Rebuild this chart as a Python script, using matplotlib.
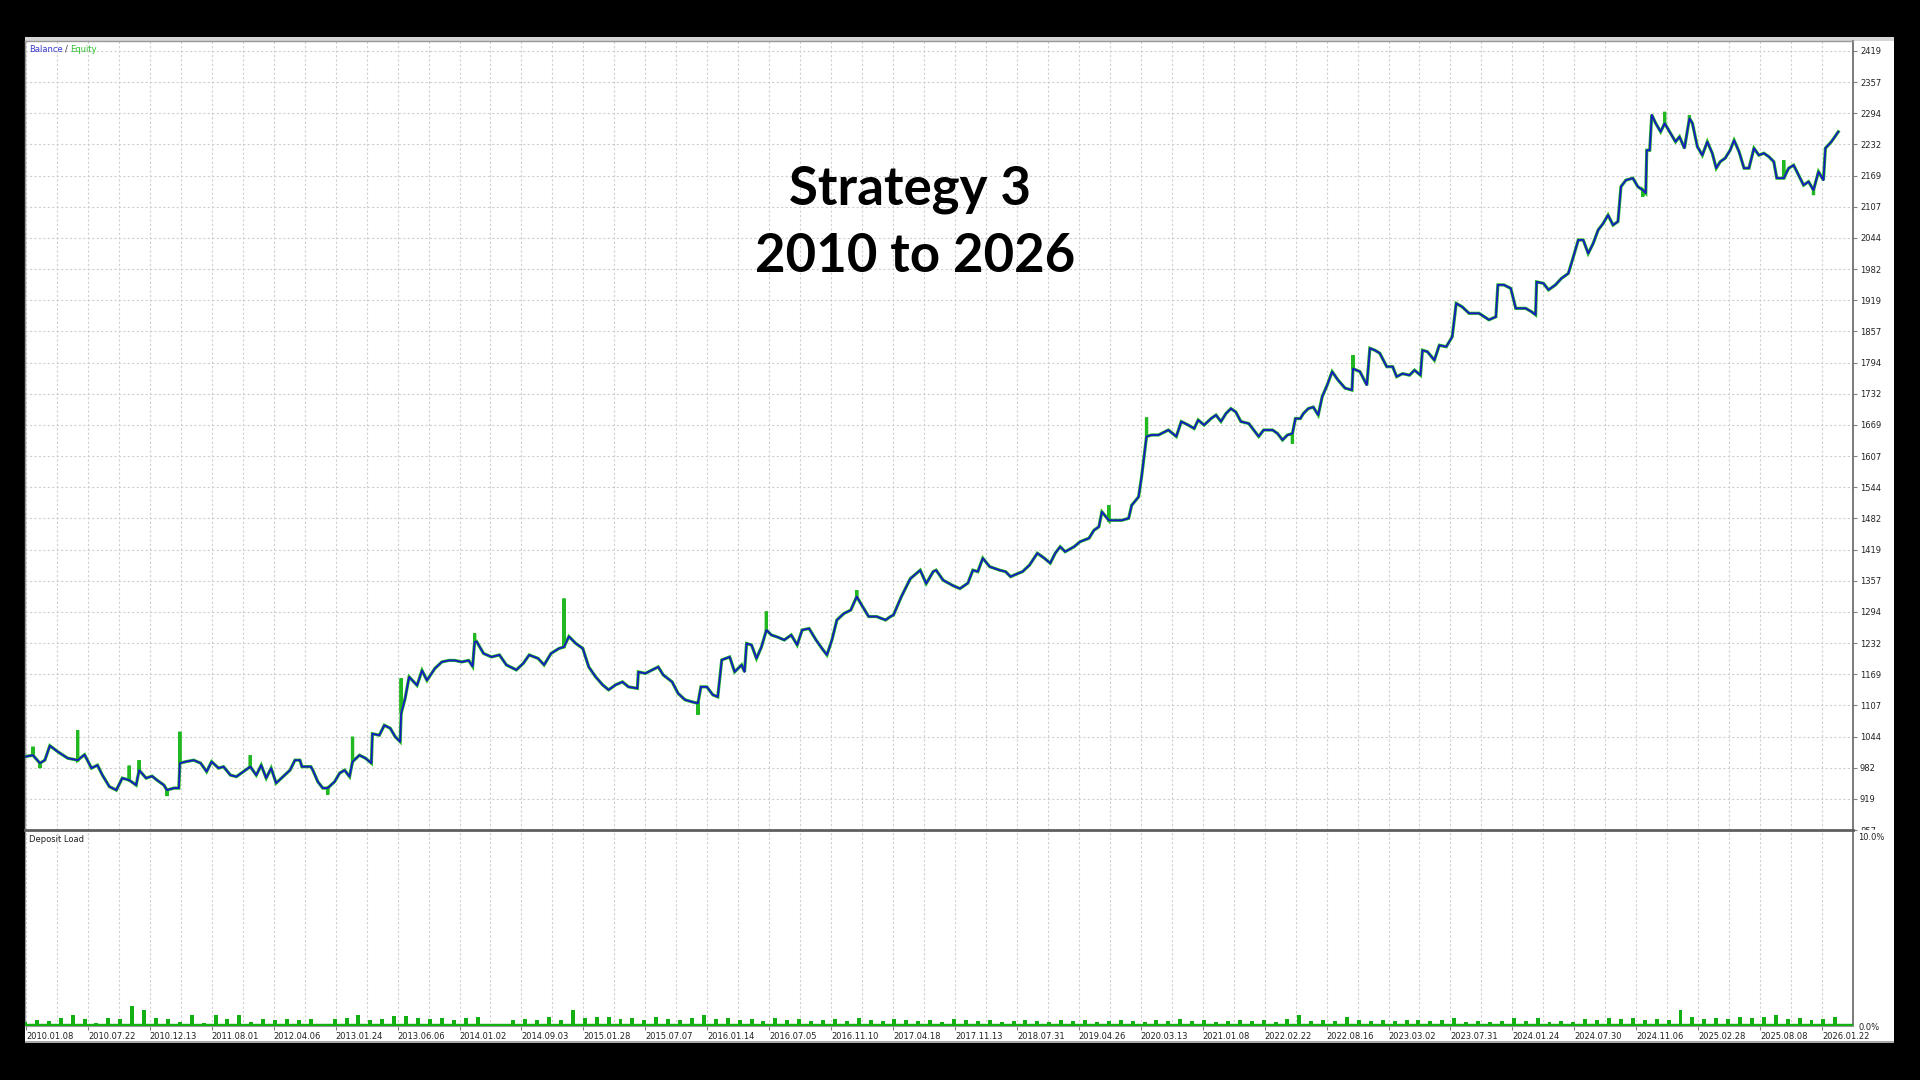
import numpy as np
import matplotlib
matplotlib.use("Agg")
import matplotlib.pyplot as plt
from matplotlib.patches import Rectangle
from matplotlib.transforms import Bbox, TransformedBbox

# balance curve: trade number -> balance
trade = [0, 8, 15, 20, 25, 33, 43, 53, 60, 67, 73, 78, 85, 92, 98, 105, 112, 115, 122, 128,
         133, 140, 143, 150, 155, 156, 162, 170, 177, 183, 188, 195, 200, 207, 213, 220, 227, 233, 238, 243,
         248, 253, 260, 267, 272, 277, 279, 288, 290, 295, 300, 305, 312, 317, 322, 327, 330, 337, 343, 349,
         350, 357, 362, 368, 373, 378, 379, 383, 387, 395, 400, 405, 413, 420, 427, 433, 440, 447, 451, 453,
         455, 462, 470, 478, 485, 495, 502, 508, 517, 523, 530, 538, 543, 548, 555, 562, 568, 575, 582, 588,
         595, 602, 608, 617, 618, 625, 632, 638, 643, 652, 658, 665, 672, 678, 681, 687, 693, 698, 702, 710,
         715, 722, 725, 727, 732, 737, 742, 747, 752, 758, 765, 772, 778, 783, 790, 797, 803, 808, 813, 818,
         825, 832, 838, 843, 850, 858, 867, 872, 875, 883, 892, 902, 908, 915, 918, 925, 935, 942, 950, 955,
         960, 965, 972, 982, 988, 993, 1000, 1005, 1012, 1020, 1027, 1033, 1038, 1043, 1048, 1057, 1063, 1072, 1077, 1082,
         1085, 1092, 1098, 1105, 1112, 1115, 1122, 1125, 1127, 1130, 1135, 1142, 1152, 1160, 1165, 1172, 1178, 1182, 1188, 1195,
         1200, 1205, 1210, 1215, 1220, 1225, 1233, 1238, 1243, 1248, 1257, 1262, 1267, 1272, 1277, 1280, 1285, 1288, 1293, 1298,
         1303, 1307, 1312, 1317, 1323, 1330, 1337, 1338, 1345, 1352, 1355, 1360, 1365, 1372, 1378, 1382, 1388, 1395, 1400, 1406,
         1408, 1413, 1420, 1425, 1432, 1438, 1442, 1448, 1455, 1465, 1475, 1482, 1484, 1490, 1497, 1502, 1512, 1518, 1522, 1523,
         1530, 1535, 1542, 1548, 1555, 1560, 1565, 1570, 1575, 1580, 1585, 1590, 1595, 1600, 1605, 1608, 1613, 1620, 1625, 1630,
         1633, 1634, 1637, 1639, 1643, 1648, 1652, 1658, 1663, 1667, 1672, 1677, 1680, 1685, 1690, 1695, 1700, 1704, 1708, 1713,
         1718, 1722, 1727, 1732, 1737, 1742, 1747, 1752, 1757, 1762, 1765, 1772, 1777, 1782, 1787, 1792, 1797, 1802, 1807, 1812,
         1814, 1820, 1827]
balance = [1004, 1007, 991, 997, 1026, 1014, 1001, 997, 1008, 981, 987, 967, 944, 937, 961, 957, 947, 977, 961, 965,
           957, 947, 937, 941, 941, 991, 994, 997, 991, 974, 994, 981, 984, 967, 964, 974, 984, 967, 987, 961,
           981, 951, 964, 977, 997, 997, 984, 984, 977, 954, 941, 941, 954, 971, 977, 964, 994, 1007, 1001, 991,
           1050, 1047, 1067, 1061, 1044, 1034, 1091, 1121, 1164, 1147, 1177, 1157, 1181, 1194, 1197, 1197, 1194, 1197, 1185, 1234,
           1235, 1211, 1204, 1208, 1188, 1178, 1191, 1208, 1201, 1188, 1211, 1221, 1224, 1245, 1231, 1221, 1184, 1164, 1148, 1138,
           1148, 1154, 1144, 1141, 1174, 1171, 1178, 1184, 1168, 1154, 1131, 1118, 1114, 1111, 1144, 1144, 1128, 1124, 1198, 1204,
           1174, 1188, 1174, 1231, 1228, 1201, 1224, 1258, 1248, 1244, 1238, 1248, 1228, 1258, 1261, 1238, 1221, 1208, 1238, 1278,
           1291, 1298, 1325, 1308, 1285, 1285, 1278, 1285, 1288, 1325, 1361, 1378, 1351, 1375, 1378, 1358, 1347, 1341, 1352, 1378,
           1375, 1402, 1385, 1378, 1375, 1365, 1371, 1375, 1388, 1412, 1402, 1392, 1412, 1425, 1415, 1425, 1435, 1442, 1458, 1465,
           1495, 1478, 1478, 1478, 1482, 1508, 1525, 1565, 1598, 1646, 1649, 1649, 1659, 1646, 1676, 1669, 1662, 1679, 1669, 1682,
           1689, 1676, 1692, 1702, 1695, 1676, 1672, 1659, 1646, 1659, 1659, 1652, 1639, 1649, 1652, 1682, 1682, 1692, 1702, 1705,
           1689, 1726, 1749, 1776, 1759, 1743, 1739, 1782, 1776, 1749, 1823, 1819, 1813, 1786, 1786, 1766, 1772, 1769, 1779, 1769,
           1819, 1816, 1799, 1829, 1826, 1846, 1913, 1906, 1893, 1893, 1880, 1886, 1950, 1950, 1943, 1903, 1903, 1896, 1890, 1956,
           1953, 1940, 1950, 1963, 1973, 2006, 2040, 2040, 2013, 2033, 2060, 2073, 2090, 2070, 2077, 2147, 2160, 2164, 2147, 2140,
           2134, 2220, 2220, 2291, 2274, 2257, 2274, 2254, 2237, 2247, 2224, 2284, 2274, 2227, 2210, 2237, 2214, 2184, 2197, 2204,
           2220, 2240, 2217, 2184, 2184, 2224, 2210, 2214, 2207, 2197, 2164, 2164, 2184, 2190, 2170, 2150, 2157, 2140, 2177, 2160,
           2224, 2237, 2257]

# equity excursions away from balance (open trades), trade number -> equity
spike_trade = [8, 15, 53, 105, 115, 143, 156, 227, 305, 330, 379, 453, 543, 678, 747, 838,
               1092, 1130, 1277, 1338, 1630, 1652, 1677, 1772, 1802]
spike_equity = [1024, 981, 1057, 986, 997, 925, 1054, 1007, 928, 1044, 1161, 1251, 1321, 1088, 1295, 1338,
                1508, 1684, 1632, 1809, 2127, 2297, 2290, 2200, 2130]

# deposit load in %, one reading every 12 trades
load_pct = [0.2, 0.3, 0.25, 0.4, 0.6, 0.35, 0.15, 0.4, 0.35, 1.05, 0.85, 0.4, 0.35, 0.2, 0.6, 0.15,
            0.6, 0.35, 0.6, 0.2, 0.35, 0.3, 0.35, 0.3, 0.35, 0.1, 0.35, 0.4, 0.6, 0.3, 0.35, 0.55,
            0.55, 0.4, 0.35, 0.4, 0.3, 0.4, 0.45, 0.05, 0.1, 0.3, 0.35, 0.3, 0.45, 0.3, 0.85, 0.4,
            0.45, 0.5, 0.35, 0.4, 0.3, 0.45, 0.35, 0.3, 0.4, 0.6, 0.35, 0.4, 0.3, 0.35, 0.25, 0.4,
            0.3, 0.35, 0.25, 0.3, 0.35, 0.25, 0.4, 0.3, 0.25, 0.35, 0.3, 0.25, 0.3, 0.2, 0.35, 0.3,
            0.25, 0.3, 0.2, 0.25, 0.3, 0.25, 0.2, 0.3, 0.25, 0.3, 0.2, 0.25, 0.3, 0.25, 0.2, 0.3,
            0.25, 0.35, 0.25, 0.3, 0.2, 0.25, 0.3, 0.25, 0.3, 0.2, 0.35, 0.6, 0.25, 0.3, 0.25, 0.45,
            0.3, 0.25, 0.3, 0.25, 0.3, 0.3, 0.25, 0.3, 0.4, 0.2, 0.25, 0.2, 0.25, 0.4, 0.25, 0.4,
            0.2, 0.25, 0.2, 0.35, 0.3, 0.4, 0.35, 0.4, 0.3, 0.35, 0.3, 0.85, 0.45, 0.35, 0.4, 0.35,
            0.5, 0.4, 0.45, 0.6, 0.35, 0.4, 0.3, 0.35, 0.45]

date_labels = ["2010.01.08", "2010.07.22", "2010.12.13", "2011.08.01", "2012.04.06", "2013.01.24",
               "2013.06.06", "2014.01.02", "2014.09.03", "2015.01.28", "2015.07.07", "2016.01.14",
               "2016.07.05", "2016.11.10", "2017.04.18", "2017.11.13", "2018.07.31", "2019.04.26",
               "2020.03.13", "2021.01.08", "2022.02.22", "2022.08.16", "2023.03.02", "2023.07.31",
               "2024.01.24", "2024.07.30", "2024.11.06", "2025.02.28", "2025.08.08", "2026.01.22"]
ytick_labels = ["857", "919", "982", "1044", "1107", "1169", "1232", "1294", "1357", "1419", "1482",
                "1544", "1607", "1669", "1732", "1794", "1857", "1919", "1982", "2044", "2107", "2169",
                "2232", "2294", "2357", "2419"]

plt.rcParams["font.family"] = ["DejaVu Sans"]

W, H = 1920, 1080


def fx(px):
    return px / W


def fy(py):
    return 1 - py / H


fig = plt.figure(figsize=(19.2, 10.8), dpi=100, facecolor="black")

# white report area on black background
fig.add_artist(Rectangle((fx(25), fy(1043)), fx(1894) - fx(25), fy(37) - fy(1043),
                         transform=fig.transFigure, facecolor="white", edgecolor="none", zorder=-10))
fig.add_artist(Rectangle((fx(25), fy(41)), fx(1894) - fx(25), fy(37) - fy(41),
                         transform=fig.transFigure, facecolor="#d6d6d6", edgecolor="none", zorder=-9))
fig.add_artist(Rectangle((fx(25), fy(1043)), fx(1894) - fx(25), fy(1041) - fy(1043),
                         transform=fig.transFigure, facecolor="#a8a8a8", edgecolor="none", zorder=-9))

ax = fig.add_axes([fx(25), fy(830), fx(1853) - fx(25), fy(41) - fy(830)])
ax2 = fig.add_axes([fx(25), fy(1026), fx(1853) - fx(25), fy(830) - fy(1026)])

label_pos = 1 + 62.4 * np.arange(len(date_labels))
grid_pos = 1 + 31.2 * np.arange(2 * len(date_labels))
grid_kw = dict(color="#cfcfcf", linestyle=(0, (2, 2)), linewidth=0.8)

# ---- balance / equity panel
spikes = dict(zip(spike_trade, spike_equity))
eq_x, eq_y = [], []
for t, b in zip(trade, balance):
    eq_x.append(t)
    eq_y.append(b)
    if t in spikes:
        eq_x += [t, t]
        eq_y += [spikes[t], b]

ax.plot(eq_x, eq_y, color="#22b822", lw=2.3, solid_joinstyle="miter", zorder=3)
ax.plot(trade, balance, color="#1818c4", lw=1.3, zorder=4)

ax.set_xlim(0, 1828)
ax.set_ylim(857, 2439)
ax.set_xticks(grid_pos)
ax.tick_params(axis="x", length=0, labelbottom=False)
ax.set_yticks(np.linspace(857, 2419, len(ytick_labels)))
ax.set_yticklabels(ytick_labels)
ax.yaxis.tick_right()
ax.tick_params(axis="y", length=3, pad=2, labelsize=6, color="#808080", labelcolor="#222222")
ax.grid(True, **grid_kw)
ax.set_axisbelow(True)
for side in ["left", "top"]:
    ax.spines[side].set_color("#9a9a9a")
    ax.spines[side].set_linewidth(1)
ax.spines["right"].set_color("#707070")
ax.spines["right"].set_linewidth(1.3)
ax.spines["bottom"].set_visible(False)

# the lowest price label is cut by the lower panel
clip = TransformedBbox(Bbox([[0.9, fy(830)], [1.0, 1.0]]), fig.transFigure)
for lab in ax.get_yticklabels():
    if lab.get_text() == "857":
        lab.set_clip_box(clip)
        lab.set_clip_on(True)

# ---- deposit load panel
load_trade = 12 * np.arange(len(load_pct))
ax2.bar(load_trade, load_pct, width=4, color="#12b012", linewidth=0, zorder=3)
ax2.axhspan(0, 0.13, color="#12b012", zorder=3)
ax2.set_xlim(0, 1828)
ax2.set_ylim(0, 10.37)
ax2.set_yticks([0, 10])
ax2.set_yticklabels(["0.0%", "10.0%"])
ax2.yaxis.tick_right()
ax2.tick_params(axis="y", length=0, pad=4, labelsize=6, labelcolor="#222222")
ax2.set_xticks(label_pos)
ax2.set_xticklabels(date_labels, ha="left")
ax2.set_xticks(grid_pos, minor=True)
ax2.tick_params(axis="x", which="major", length=3, pad=1, labelsize=6, color="#808080",
                labelcolor="#222222")
ax2.tick_params(axis="x", which="minor", length=0)
ax2.grid(True, axis="x", which="both", **grid_kw)
ax2.set_axisbelow(True)
ax2.spines["top"].set_color("#5f5f5f")
ax2.spines["top"].set_linewidth(2)
ax2.spines["left"].set_color("#9a9a9a")
ax2.spines["right"].set_color("#707070")
ax2.spines["right"].set_linewidth(1.3)
ax2.spines["bottom"].set_color("#9a9a9a")

# ---- texts
fig.text(fx(29), fy(49), "Balance", color="#3a3ad0", fontsize=6, va="center")
fig.text(fx(65), fy(49), "/", color="#333333", fontsize=6, va="center")
fig.text(fx(70), fy(49), "Equity", color="#2ec02e", fontsize=6, va="center")
fig.text(fx(29), fy(839), "Deposit Load", color="#202020", fontsize=6, va="center")

fig.text(fx(910), fy(190), "Strategy 3", ha="center", va="center", fontsize=38,
         fontweight="bold", family="Lato", color="black")
fig.text(fx(915), fy(256), "2010 to 2026", ha="center", va="center", fontsize=38,
         fontweight="bold", family="Lato", color="black")

fig.savefig("out.png", dpi=100, facecolor="black")
